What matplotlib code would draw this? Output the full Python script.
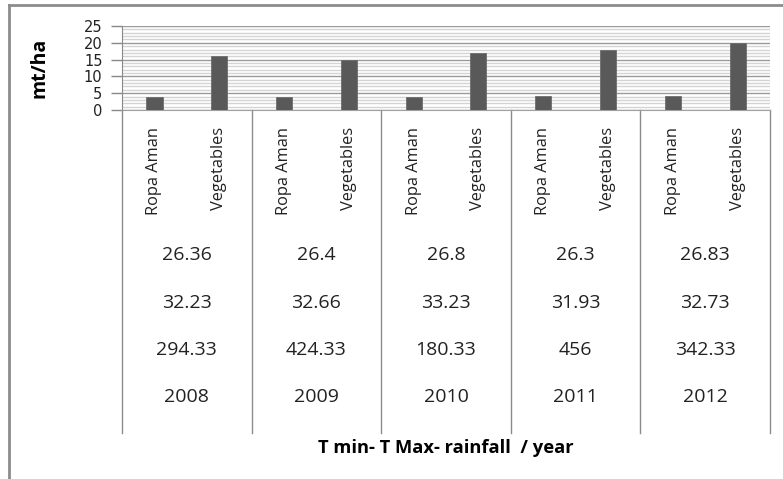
import matplotlib.pyplot as plt
from matplotlib.ticker import MultipleLocator
from matplotlib.lines import Line2D
import numpy as np

plt.rcParams['font.family'] = ['Open Sans', 'DejaVu Sans']

years = ['2008', '2009', '2010', '2011', '2012']
crops = ['Ropa Aman', 'Vegetables']
ropa_aman = [3.8, 3.8, 4.0, 4.3, 4.3]
vegetables = [16, 15, 17, 18, 20]
t_min = ['26.36', '26.4', '26.8', '26.3', '26.83']
t_max = ['32.23', '32.66', '33.23', '31.93', '32.73']
rainfall = ['294.33', '424.33', '180.33', '456', '342.33']

W, H = 783, 479
fig = plt.figure(figsize=(W / 100, H / 100), dpi=100)

# plot box in pixels: left 122, right 770, top 26, bottom 110
left_px, right_px = 122, 770
top_px, bot_px = 26, 110
ax = fig.add_axes([left_px / W, 1 - bot_px / H, (right_px - left_px) / W, (bot_px - top_px) / H])

# interleave the two crops per year
vals = []
for r, v in zip(ropa_aman, vegetables):
    vals += [r, v]
x = np.arange(len(vals))
ax.bar(x, vals, width=0.25, color='#595959', edgecolor='#6e6e6e', linewidth=0.6, zorder=3)

ax.set_xlim(-0.5, len(vals) - 0.5)
ax.set_ylim(0, 25)
ax.yaxis.set_major_locator(MultipleLocator(5))
ax.yaxis.set_minor_locator(MultipleLocator(1))
ax.grid(which='minor', axis='y', color='#d4d4d4', linewidth=1.0, zorder=0)
ax.grid(which='major', axis='y', color='#9a9a9a', linewidth=1.0, zorder=1)
ax.tick_params(axis='y', which='major', length=8, width=1, color='#888888',
               pad=6, labelcolor='#222222')
ax.tick_params(axis='y', which='minor', length=0)
for lab in ax.get_yticklabels():
    lab.set_fontfamily('DejaVu Sans')
    lab.set_fontsize(10.5)
ax.set_xticks([])
for s in ['top', 'right']:
    ax.spines[s].set_visible(False)
ax.spines['left'].set_color('#888888')
ax.spines['bottom'].set_color('#a0a0a0')
ax.set_ylabel('mt/ha', fontsize=14, fontweight='bold')
ax.yaxis.set_label_coords((50 - left_px) / (right_px - left_px), 0.5)

def ay(py):
    # pixel row -> axes fraction
    return (bot_px - py) / (bot_px - top_px)

tr = ax.get_xaxis_transform()

# multi-level category table below the axis
for gx in np.arange(-0.5, len(vals), 2):
    ax.add_line(Line2D([gx, gx], [ay(bot_px), ay(433)], transform=tr,
                       color='#8c8c8c', linewidth=1, clip_on=False))

for i in range(len(vals)):
    ax.text(x[i], ay(127), crops[i % 2], rotation=90, ha='center', va='top',
            fontsize=11.8, color='#222222', transform=tr)

rows = [(t_min, 255), (t_max, 303), (rainfall, 350), (years, 397)]
for labels, py in rows:
    for j, lab in enumerate(labels):
        ax.text(2 * j + 0.5, ay(py), lab, ha='center', va='center',
                fontsize=14, color='#222222', transform=tr)

ax.text(0.5, ay(448), 'T min- T Max- rainfall  / year', ha='center', va='center',
        fontsize=13.2, fontweight='bold', transform=ax.transAxes)

# outer chart frame
fig.add_artist(Line2D([8.5 / W, 8.5 / W], [0, 1 - 4.5 / H], color='#8c8c8c', linewidth=2))
fig.add_artist(Line2D([8.5 / W, 1], [1 - 4.5 / H, 1 - 4.5 / H], color='#8c8c8c', linewidth=2))

fig.savefig('out.png', dpi=100)
